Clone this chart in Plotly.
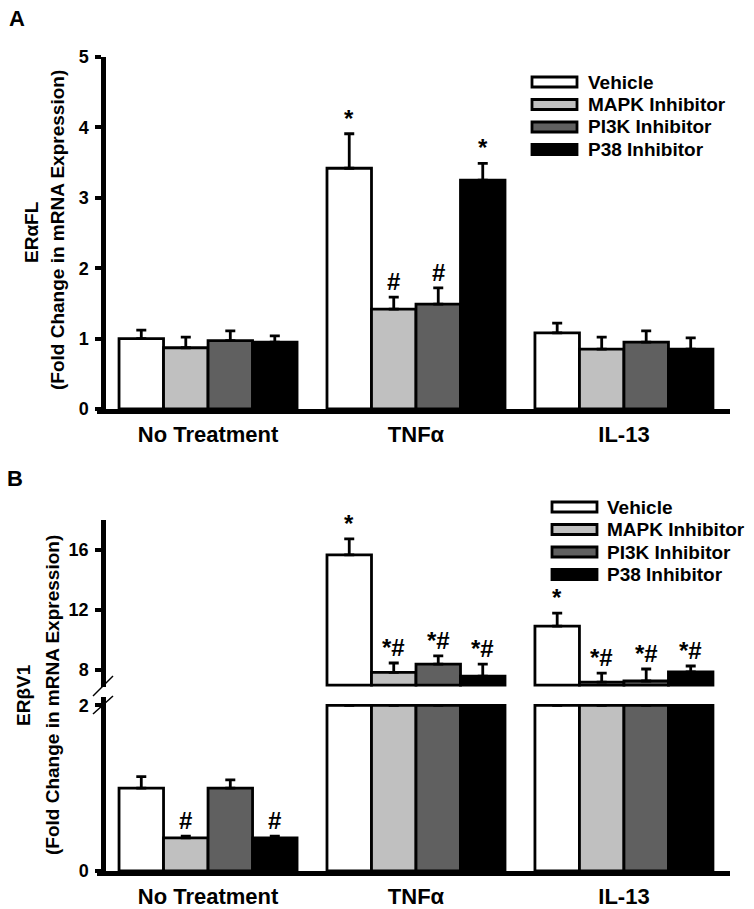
import plotly.graph_objects as go

# ---------------- data ----------------
categories = ["No Treatment", "TNFα", "IL-13"]
series_names = ["Vehicle", "MAPK Inhibitor", "PI3K Inhibitor", "P38 Inhibitor"]
series_colors = ["#FFFFFF", "#C0C0C0", "#606060", "#000000"]

# Panel A: ERαFL fold change
a_vehicle = [1.00, 3.42, 1.08]
a_mapk = [0.87, 1.42, 0.85]
a_pi3k = [0.97, 1.49, 0.95]
a_p38 = [0.95, 3.25, 0.85]
a_vehicle_err = [0.12, 0.49, 0.14]
a_mapk_err = [0.15, 0.17, 0.17]
a_pi3k_err = [0.14, 0.23, 0.16]
a_p38_err = [0.09, 0.24, 0.16]
a_vehicle_mark = ["", "*", ""]
a_mapk_mark = ["", "#", ""]
a_pi3k_mark = ["", "#", ""]
a_p38_mark = ["", "*", ""]

# Panel B: ERβV1 fold change
b_vehicle = [1.00, 15.67, 10.93]
b_mapk = [0.40, 7.85, 7.20]
b_pi3k = [1.00, 8.40, 7.27]
b_p38 = [0.40, 7.60, 7.87]
b_vehicle_err = [0.14, 1.07, 0.87]
b_mapk_err = [0.02, 0.62, 0.60]
b_pi3k_err = [0.10, 0.55, 0.80]
b_p38_err = [0.02, 0.80, 0.40]
b_vehicle_mark = ["", "*", "*"]
b_mapk_mark = ["#", "*#", "*#"]
b_pi3k_mark = ["", "*#", "*#"]
b_p38_mark = ["#", "*#", "*#"]

a_ticks = [0, 1, 2, 3, 4, 5]
b_low_ticks = [0, 2]
b_high_ticks = [8, 12, 16]
B_LOW_MAX = 2      # lower segment of broken axis ends here
B_HIGH_MIN = 7     # upper segment starts here

a_vals = [a_vehicle, a_mapk, a_pi3k, a_p38]
a_errs = [a_vehicle_err, a_mapk_err, a_pi3k_err, a_p38_err]
a_marks = [a_vehicle_mark, a_mapk_mark, a_pi3k_mark, a_p38_mark]
b_vals = [b_vehicle, b_mapk, b_pi3k, b_p38]
b_errs = [b_vehicle_err, b_mapk_err, b_pi3k_err, b_p38_err]
b_marks = [b_vehicle_mark, b_mapk_mark, b_pi3k_mark, b_p38_mark]

# ---------------- layout helpers ----------------
W, H = 754, 909
FONT = "Liberation Sans, Arial, Helvetica, sans-serif"


def fx(p):
    return p / W


def fy(p):
    return 1 - p / H


BAR_W = 0.214


def offset(i):
    return -2 * BAR_W + i * BAR_W


def center(i):
    return offset(i) + BAR_W / 2


LINE_W = 2.8
fig = go.Figure()


def err_style(arr):
    return dict(type="data", array=arr, arrayminus=[0] * len(arr), symmetric=False,
                color="black", thickness=LINE_W, width=5)


# Panel A bars
for i, color in enumerate(series_colors):
    fig.add_trace(go.Bar(
        x=categories, y=a_vals[i], width=BAR_W, offset=offset(i), name=series_names[i],
        marker=dict(color=color, line=dict(color="black", width=LINE_W)),
        error_y=err_style(a_errs[i]), xaxis="x", yaxis="y", showlegend=False))

# Panel B lower segment
for i, color in enumerate(series_colors):
    low_y = [min(v, B_LOW_MAX) for v in b_vals[i]]
    low_err = [e if v <= B_LOW_MAX else None for v, e in zip(b_vals[i], b_errs[i])]
    fig.add_trace(go.Bar(
        x=categories, y=low_y, width=BAR_W, offset=offset(i), name=series_names[i],
        marker=dict(color=color, line=dict(color="black", width=LINE_W)),
        error_y=err_style(low_err), xaxis="x2", yaxis="y2", showlegend=False))

# Panel B upper segment
for i, color in enumerate(series_colors):
    up_y = [v - B_HIGH_MIN if v > B_HIGH_MIN else None for v in b_vals[i]]
    up_err = [e if v > B_HIGH_MIN else None for v, e in zip(b_vals[i], b_errs[i])]
    fig.add_trace(go.Bar(
        x=categories, y=up_y, base=B_HIGH_MIN, width=BAR_W, offset=offset(i), name=series_names[i],
        marker=dict(color=color, line=dict(color="black", width=LINE_W)),
        error_y=err_style(up_err), xaxis="x3", yaxis="y3", showlegend=False))

mark_font = dict(family=FONT, size=24, color="black", weight="bold")

# significance marks
for i in range(4):
    for j in range(len(categories)):
        t = a_marks[i][j]
        if t:
            fig.add_annotation(x=j + center(i), y=a_vals[i][j] + a_errs[i][j], xref="x", yref="y",
                               text=t, showarrow=False, yanchor="bottom", yshift=0, font=mark_font)
        t = b_marks[i][j]
        if t:
            v = b_vals[i][j]
            yref = "y3" if v > B_HIGH_MIN else "y2"
            xref = "x3" if v > B_HIGH_MIN else "x2"
            fig.add_annotation(x=j + center(i), y=v + b_errs[i][j], xref=xref, yref=yref,
                               text=t, showarrow=False, yanchor="bottom", yshift=0, font=mark_font)

X_RANGE = [-0.534, 2.51]
X_DOM = [fx(97), fx(730)]
AX_LW = 4.5

common_x = dict(domain=X_DOM, range=X_RANGE, type="category", showline=True, linecolor="black",
                linewidth=AX_LW, ticks="", showgrid=False, zeroline=False, automargin=False,
                tickfont=dict(family=FONT, size=22, color="black", weight="bold"),
                ticklabelstandoff=2)
common_y = dict(anchor="free", position=fx(103), showline=True, linecolor="black", linewidth=AX_LW,
                ticks="outside", ticklen=6, tickwidth=4, tickcolor="black", showgrid=False,
                zeroline=False, automargin=False, ticklabelstandoff=3,
                tickfont=dict(family=FONT, size=18, color="black", weight="bold"))

fig.update_layout(
    template="none",
    width=W, height=H, autosize=False,
    margin=dict(l=0, r=0, t=0, b=0, pad=0, autoexpand=False),
    paper_bgcolor="white", plot_bgcolor="white",
    barmode="overlay", showlegend=False,
    xaxis=dict(common_x, anchor="y"),
    yaxis=dict(common_y, domain=[fy(409), fy(57)], range=[0, 5], tickvals=a_ticks),
    xaxis2=dict(common_x, anchor="y2"),
    yaxis2=dict(common_y, domain=[fy(871), fy(697)], range=[0, 2.1], tickvals=b_low_ticks),
    xaxis3=dict(domain=X_DOM, range=X_RANGE, type="category", anchor="y3", visible=False,
                automargin=False),
    yaxis3=dict(common_y, domain=[fy(687), fy(520)], range=[6.87, 18], tickvals=b_high_ticks),
)

# axis titles
title_font = dict(family=FONT, size=19, color="black", weight="bold")
for txt, xp, yp in [("ERαFL", 31, 232), ("(Fold Change in mRNA Expression)", 57, 230),
                    ("ERβV1", 23, 695), ("(Fold Change in mRNA Expression)", 52, 695)]:
    fig.add_annotation(x=fx(xp), y=fy(yp), xref="paper", yref="paper", text=txt, textangle=-90,
                       showarrow=False, xanchor="center", yanchor="middle", font=title_font)

# panel letters
for txt, xp, yp in [("A", 17, 18), ("B", 15, 478)]:
    fig.add_annotation(x=fx(xp), y=fy(yp), xref="paper", yref="paper", text=txt, showarrow=False,
                       xanchor="center", yanchor="middle",
                       font=dict(family=FONT, size=22, color="black", weight="bold"))

# legends (drawn manually to get wide swatches)
legend_font = dict(family=FONT, size=19, color="black", weight="bold")
for sx, tx, rows in [(532, 586, [82, 104.5, 127, 149.5]), (552, 605, [507, 529.5, 552, 574.5])]:
    for i, (name, color) in enumerate(zip(series_names, series_colors)):
        ry = rows[i]
        fig.add_shape(type="rect", xref="paper", yref="paper", x0=fx(sx), x1=fx(sx + 45),
                      y0=fy(ry + 5), y1=fy(ry - 5), fillcolor=color,
                      line=dict(color="black", width=LINE_W))
        fig.add_annotation(x=fx(tx), y=fy(ry), xref="paper", yref="paper", text=name,
                           showarrow=False, xanchor="left", yanchor="middle", font=legend_font)

# axis break marks
for (x0, y0, x1, y1) in [(93, 696, 113, 676), (93, 714, 113, 696)]:
    fig.add_shape(type="line", xref="paper", yref="paper", x0=fx(x0), y0=fy(y0), x1=fx(x1), y1=fy(y1),
                  line=dict(color="black", width=1.5))

POST = ("document.documentElement.style.margin='0';"
        "document.documentElement.style.overflow='hidden';"
        "document.body.style.margin='0';document.body.style.overflow='hidden';"
        "var gd=document.getElementById('{plot_id}');"
        "gd.style.position='fixed';gd.style.left='0px';gd.style.top='0px';")

fig.write_html("out.html", config={"displayModeBar": False}, post_script=POST)
